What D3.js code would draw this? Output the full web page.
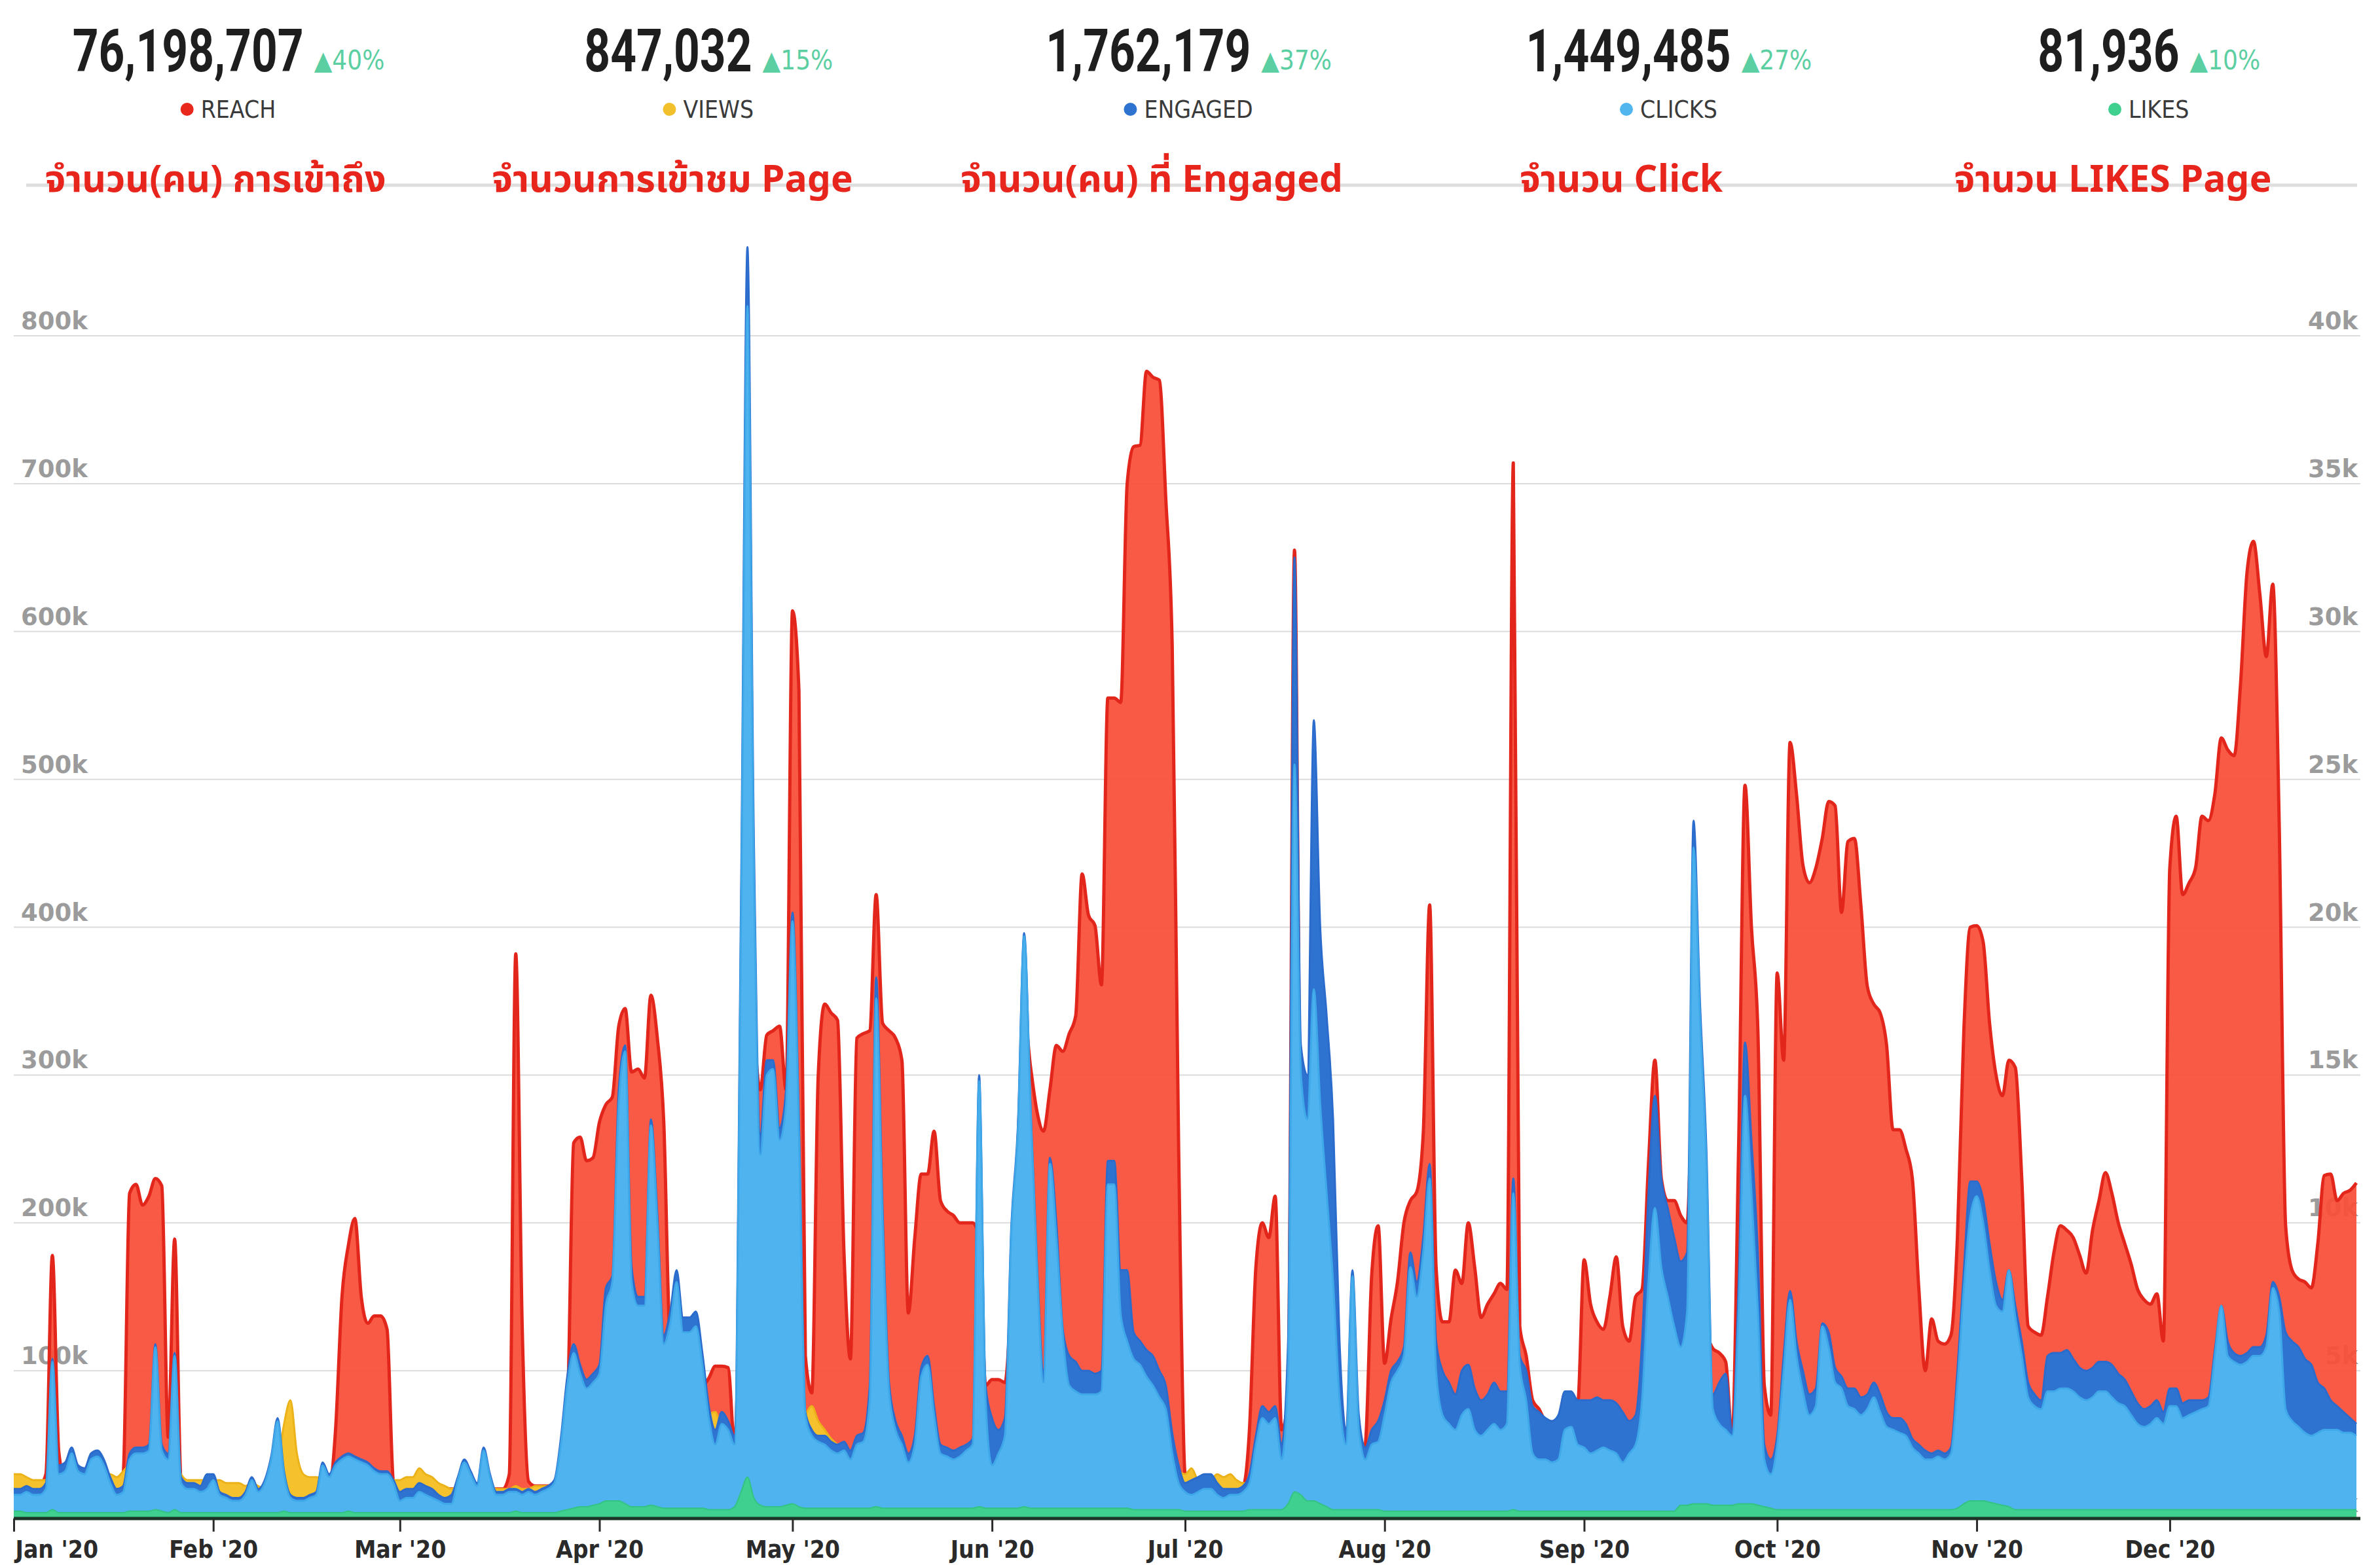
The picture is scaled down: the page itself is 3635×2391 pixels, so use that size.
<!DOCTYPE html>
<html>
<head>
<meta charset="utf-8">
<script src="https://cdn.jsdelivr.net/npm/d3@7/dist/d3.min.js"></script>
<style>
  html, body { margin: 0; padding: 0; background: #fff; }
  svg { display: block; }
  .num { font-family: "Roboto", "DejaVu Sans", sans-serif; font-weight: 700; fill: #1e1e1e; }
  .pct { font-family: "Liberation Sans Narrow", "DejaVu Sans Condensed", sans-serif; fill: #5ccfa2; }
  .lbl { font-family: "Liberation Sans Narrow", "DejaVu Sans Condensed", sans-serif; fill: #3a3a3a; }
  .note { font-family: "Noto Sans Thai", "Loma", "Garuda", "Noto Sans", "DejaVu Sans", sans-serif; font-weight: 700; fill: #e8251c; }
  .ylab { font-family: "DejaVu Sans", sans-serif; font-weight: 700; fill: #9b9b9b; }
  .xlab { font-family: "Liberation Sans Narrow", "DejaVu Sans Condensed", sans-serif; font-weight: 700; fill: #2a2a2a; }
</style>
</head>
<body>
<div id="chart"></div>
<script>
// header figures
const kpiNames = ['REACH', 'VIEWS', 'ENGAGED', 'CLICKS', 'LIKES'];
const kpiTotals = [76198707, 847032, 1762179, 1449485, 81936];
const kpiChanges = [40, 15, 37, 27, 10];
const kpiNotes = ['จำนวน(คน) การเข้าถึง', 'จำนวนการเข้าชม Page', 'จำนวน(คน) ที่ Engaged', 'จำนวน Click', 'จำนวน LIKES Page'];

// axis ticks (thousands)
const leftTicks = [0, 100, 200, 300, 400, 500, 600, 700, 800];
const rightTicks = [0, 5, 10, 15, 20, 25, 30, 35, 40];

// daily values, Jan 1 - Dec 30 2020, in thousands; reach on left axis, the rest on right axis
const reach = [
  20,20,22,20,22,30,178,45,25,22,22,20,22,20,20,20,22,30,220,226,212,218,230,225,55,189,25,20,20,20,20,
  20,20,20,20,20,20,20,20,20,20,20,20,20,20,20,20,20,20,20,60,150,185,203,150,132,137,137,128,25,
  20,20,20,20,20,20,20,20,20,20,20,20,20,20,20,20,20,30,382,130,25,22,22,22,25,40,70,254,258,242,244,
  268,280,285,333,345,302,304,298,354,325,268,120,110,100,100,110,90,95,103,103,102,50,200,400,330,290,327,330,333,290,
  614,560,110,85,300,348,342,337,180,108,325,328,330,422,335,330,325,310,139,190,233,233,262,215,208,205,200,200,200,190,90,
  94,94,92,150,250,340,305,275,262,290,320,316,328,340,436,408,401,361,555,555,552,700,725,726,776,772,770,690,590,250,
  30,22,22,22,22,22,22,22,22,22,60,170,200,190,218,60,80,655,250,240,400,300,250,200,90,50,120,40,50,165,198,
  105,135,160,200,215,221,260,415,170,133,133,168,159,200,170,136,145,152,159,155,714,130,110,80,74,65,60,62,85,85,78,
  175,145,133,128,150,177,130,120,150,155,240,310,230,215,215,205,200,300,140,125,115,112,106,55,250,496,400,330,90,70,
  369,310,525,490,442,430,440,460,485,482,410,458,460,415,360,348,342,320,263,263,250,230,156,100,135,120,118,124,190,330,400,
  401,390,335,300,286,310,305,230,130,126,124,150,180,198,195,190,178,166,195,215,234,220,200,186,172,155,148,145,152,120,
  440,475,422,430,440,475,472,490,528,520,516,565,640,661,625,583,632,470,198,168,162,160,156,186,232,233,215,220,222,227
];
const views = [
  1.5,1.5,1.4,1.3,1.3,1.3,2.0,1.3,1.4,1.4,1.4,1.4,1.3,1.3,1.4,1.5,1.4,1.6,1.8,1.8,1.8,1.8,2.0,1.8,1.8,2.0,1.5,1.3,1.3,1.3,1.3,
  1.3,1.3,1.2,1.2,1.2,1.1,1.2,1.1,1.0,1.0,1.8,3.2,4.0,2.2,1.5,1.4,1.4,1.3,1.0,1.2,1.4,1.5,1.5,1.5,1.5,1.4,1.4,1.4,1.3,
  1.3,1.4,1.4,1.7,1.5,1.4,1.2,1.1,1.0,1.1,1.2,1.1,1.1,1.2,1.1,1.0,1.0,1.0,1.1,1.0,1.0,1.1,1.1,1.1,1.2,1.5,2.0,2.2,2.2,2.2,2.2,
  2.2,2.4,2.5,2.6,2.6,2.5,2.5,2.5,2.5,2.5,2.5,2.5,2.5,2.5,2.5,2.5,2.6,3.5,3.6,3.0,2.8,2.4,3.0,3.5,3.0,3.0,3.0,3.0,3.0,3.0,
  3.0,3.0,3.5,3.8,3.3,3.0,2.7,2.5,2.3,2.2,2.4,2.4,2.5,2.6,2.6,2.5,2.4,2.3,1.9,2.2,2.4,2.4,2.4,2.2,2.2,2.1,2.1,2.2,2.2,2.5,2.8,
  1.8,2.0,2.2,2.8,2.9,2.8,2.7,2.8,2.9,2.8,2.8,2.7,2.8,2.8,2.7,2.8,2.8,2.9,2.8,2.8,2.7,2.8,2.8,2.7,2.8,2.8,2.7,2.8,2.0,1.6,
  1.5,1.7,1.3,1.2,1.3,1.5,1.4,1.5,1.3,1.2,1.2,2.0,2.5,2.5,2.5,2.0,2.5,3.0,3.0,3.0,3.0,3.0,3.0,3.0,2.8,2.5,2.5,2.0,2.0,2.0,2.0,
  2.0,2.0,2.2,2.3,2.5,2.5,2.5,2.5,2.5,2.4,2.3,2.3,2.3,2.3,2.3,2.3,2.3,2.3,2.3,2.3,2.5,2.5,2.3,2.0,1.8,1.8,1.8,1.8,2.0,2.0,2.0,
  2.0,2.0,2.0,2.0,2.0,2.0,1.9,1.9,2.0,2.5,3.0,3.0,3.0,3.0,3.0,3.0,3.0,3.5,3.5,3.0,2.5,2.5,2.5,2.3,2.5,3.0,3.0,3.0,2.0,1.8,
  2.0,2.5,2.8,2.8,2.8,2.8,2.8,2.8,2.8,2.8,2.8,2.8,2.8,2.8,2.8,2.8,2.8,2.6,2.5,2.5,2.5,2.2,2.0,1.9,1.9,1.9,1.9,2.0,2.5,3.0,3.0,
  3.2,3.2,3.1,3.0,3.0,3.0,3.0,2.9,2.9,2.9,2.9,3.0,3.0,3.0,3.0,3.0,3.0,3.0,3.0,3.0,3.0,3.0,2.9,2.9,2.9,2.9,2.9,2.9,2.9,2.9,
  2.9,2.9,2.9,2.9,2.9,2.9,2.9,3.0,3.0,3.0,3.0,3.0,3.0,3.0,3.0,3.0,3.0,3.0,2.9,2.8,2.7,2.6,2.6,2.6,2.6,2.6,2.6,2.6,2.6,2.6
];
const engaged = [
  1.0,1.0,1.1,1.0,1.0,1.2,5.4,1.8,1.9,2.4,1.8,1.7,2.2,2.3,2.0,1.4,1.0,1.1,2.2,2.4,2.4,2.5,5.9,2.5,2.2,5.6,1.4,1.2,1.2,1.1,1.5,
  1.5,0.9,0.8,0.7,0.7,0.9,1.4,1.0,1.3,2.1,3.4,1.6,0.8,0.7,0.7,0.8,0.9,1.9,1.5,1.9,2.1,2.2,2.1,2.0,1.9,1.7,1.6,1.6,1.3,
  0.9,1.0,1.0,1.2,1.1,1.0,0.8,0.7,0.8,1.4,2.0,1.6,1.2,2.4,1.5,0.9,0.9,1.0,1.0,0.9,1.0,0.9,1.0,1.1,1.3,2.7,4.8,5.9,5.2,4.7,4.9,
  5.2,7.8,8.2,14.5,16,8.5,7.5,7.5,13.5,10.3,6.2,7.0,8.4,6.8,6.8,7.0,5.6,3.8,3.0,3.6,3.3,2.8,21,43,23,13,15.5,15.5,13.2,14.5,
  20.5,13.5,3.6,3.0,2.8,2.8,2.6,2.5,2.6,2.3,2.8,2.9,4.5,18.3,10.5,4.6,3.3,2.8,2.2,2.8,5.1,5.5,3.8,2.5,2.4,2.3,2.4,2.5,2.7,15,4.5,
  3.4,3.0,3.4,9.9,13.2,19.8,13.9,8.6,5.0,12.2,10.0,6.4,5.5,5.3,5.0,5.0,4.9,5.0,12.1,12.1,8.4,8.4,6.3,6.0,5.7,5.5,5.0,4.5,2.9,1.8,
  1.2,1.3,1.4,1.5,1.5,1.2,1.0,1.0,1.0,1.1,1.5,2.8,3.8,3.6,3.8,2.5,6,32.5,16,15,27,20,17,13.5,6,3,8.4,3.5,2.4,3.0,3.3,
  4,5,5.3,5.8,9,8,9.5,12,6,5,4.6,4.2,5.0,5.2,4.4,4.0,4.2,4.6,4.3,4.3,11.5,5.5,5.0,3.8,3.6,3.4,3.3,3.5,4.3,4.3,4.0,
  4.0,4.0,4.1,4.0,4.0,3.9,3.6,3.3,3.5,6,11,14.3,11.5,10.5,9.5,8.7,9,23.6,17.5,12.5,4.2,4.6,4.9,3.0,8,16.1,12.8,9,2.5,2.0,
  2.8,5.5,7.7,6.0,5.0,4.2,4.4,6.6,6.3,5.1,4.8,4.4,4.4,4.1,4.2,4.6,4.2,3.6,3.4,3.4,3.2,2.7,2.5,2.3,2.2,2.3,2.2,2.4,5.0,8.4,11.4,
  11.4,10.8,9.3,8.0,7.4,8.4,7.2,6.0,4.6,4.2,4.0,5.5,5.6,5.6,5.7,5.4,5.1,5.0,5.1,5.3,5.3,5.2,4.9,4.7,4.3,3.9,3.7,3.8,4.0,3.6,
  4.4,4.4,3.9,4.0,4.0,4.0,4.1,5.7,7.2,6.0,5.6,5.5,5.6,5.8,5.8,6.2,8.0,7.5,6.3,6.0,5.8,5.4,5.2,4.6,4.4,4.0,3.8,3.6,3.4,3.2
];
const clicks = [
  0.8,0.8,0.9,0.8,0.8,1.0,5.3,1.5,1.6,2.2,1.6,1.5,2.0,2.1,1.8,1.2,0.8,0.9,2.0,2.2,2.2,2.3,5.8,2.3,2.0,5.5,1.2,1.0,1.0,0.9,1.0,
  1.3,0.8,0.7,0.6,0.6,0.8,1.3,0.9,1.2,2.0,3.3,1.5,0.7,0.6,0.6,0.7,0.8,1.8,1.4,1.8,2.0,2.1,2.0,1.9,1.8,1.6,1.5,1.5,1.2,
  0.6,0.7,0.7,0.9,0.8,0.7,0.6,0.5,0.5,1.3,1.9,1.5,1.1,2.3,1.4,0.8,0.8,0.9,0.9,0.8,0.9,0.8,0.9,1.0,1.2,2.5,4.5,5.6,4.9,4.4,4.6,
  4.9,7.2,8.0,14.0,15.8,8.0,7.2,7.2,13.3,10.0,5.9,6.6,8.0,6.3,6.3,6.5,5.2,3.4,2.5,3.2,3.0,2.5,20,41,22,12.3,15,15.2,12.8,14,
  20.2,13,3.5,2.8,2.6,2.5,2.3,2.2,2.3,2.0,2.5,2.6,4.0,17.6,10,4.3,3.0,2.5,1.9,2.5,4.8,5.2,3.5,2.2,2.1,2.0,2.1,2.3,2.5,14.8,4.0,
  1.8,2.2,2.8,9.7,13.0,19.7,13.8,8.4,4.6,12.0,9.5,6.2,4.5,4.3,4.2,4.2,4.2,4.3,11.3,11.3,6.9,6.0,5.4,5.2,4.8,4.5,4.1,3.7,2.2,1.2,
  0.9,0.8,0.9,1.0,1.0,0.8,0.7,0.8,0.8,0.9,1.2,2.5,3.4,3.2,3.4,2.0,5,25.5,15,13.5,17.9,14,11,8,4,2.5,8.2,3,2.0,2.5,2.6,
  3.5,4.6,5.0,5.5,8.5,7.5,9,11.5,5,3.5,3.2,3.0,3.5,3.7,3.0,2.8,3.0,3.2,3.0,3.2,11,5.2,4.0,2.2,2.0,2.0,1.9,2.0,3.0,3.1,2.5,
  2.4,2.2,2.3,2.4,2.3,2.2,1.9,2.2,2.5,4,8,10.5,8.5,7.5,6.5,5.8,7,22.7,17,12,3.7,3.2,3.0,2.8,7,14.3,11,7,2,1.5,
  2.5,5,7.4,5.5,4.3,3.5,3.8,6.5,5.8,4.6,4.4,3.8,3.7,3.5,3.7,4.1,3.6,3.1,3.0,2.9,2.8,2.4,2.2,2.0,2.0,2.1,2.0,2.2,4.5,7.8,10.2,
  10.9,10.0,8.4,7.2,7.0,8.4,6.8,5.5,4.1,3.8,3.7,4.3,4.3,4.4,4.4,4.3,4.1,4.0,4.1,4.3,4.3,4.1,3.9,3.8,3.5,3.2,3.1,3.2,3.4,3.2,
  3.8,3.8,3.4,3.5,3.6,3.7,3.8,5.5,7.2,5.5,5.3,5.2,5.3,5.5,5.5,5.8,7.8,7.0,3.7,3.3,3.1,2.9,2.8,2.9,3.0,3.0,3.0,2.9,2.9,2.8
];
const likes = [
  0.25,0.25,0.2,0.2,0.2,0.2,0.3,0.2,0.2,0.2,0.2,0.2,0.2,0.2,0.2,0.2,0.2,0.2,0.25,0.25,0.25,0.25,0.3,0.25,0.2,0.3,0.2,0.2,0.2,0.2,0.2,
  0.2,0.2,0.2,0.2,0.2,0.2,0.2,0.2,0.2,0.2,0.2,0.25,0.2,0.2,0.2,0.2,0.2,0.2,0.2,0.2,0.2,0.25,0.2,0.2,0.2,0.2,0.2,0.2,0.2,
  0.2,0.2,0.2,0.2,0.2,0.2,0.2,0.2,0.2,0.2,0.2,0.2,0.2,0.2,0.2,0.2,0.2,0.2,0.25,0.2,0.2,0.2,0.2,0.2,0.2,0.25,0.3,0.35,0.4,0.4,0.45,
  0.5,0.6,0.6,0.6,0.5,0.4,0.4,0.4,0.45,0.4,0.35,0.35,0.35,0.35,0.35,0.35,0.35,0.3,0.3,0.3,0.3,0.4,0.9,1.4,0.7,0.45,0.4,0.4,0.4,0.45,
  0.5,0.4,0.35,0.35,0.35,0.35,0.35,0.35,0.35,0.35,0.35,0.35,0.35,0.4,0.35,0.35,0.35,0.35,0.35,0.35,0.35,0.35,0.35,0.35,0.35,0.35,0.35,0.35,0.35,0.4,0.35,
  0.35,0.35,0.35,0.35,0.35,0.4,0.35,0.35,0.35,0.35,0.35,0.35,0.35,0.35,0.35,0.35,0.35,0.35,0.35,0.35,0.35,0.35,0.3,0.3,0.3,0.3,0.3,0.3,0.3,0.3,
  0.25,0.25,0.25,0.25,0.25,0.25,0.25,0.25,0.25,0.25,0.3,0.3,0.3,0.3,0.3,0.3,0.5,0.9,0.8,0.6,0.6,0.5,0.4,0.3,0.3,0.3,0.3,0.3,0.3,0.3,0.3,
  0.25,0.25,0.25,0.25,0.25,0.25,0.25,0.25,0.25,0.25,0.25,0.25,0.25,0.25,0.25,0.25,0.25,0.25,0.25,0.25,0.3,0.25,0.25,0.25,0.25,0.25,0.25,0.25,0.25,0.25,0.25,
  0.25,0.25,0.25,0.25,0.25,0.25,0.25,0.25,0.25,0.25,0.25,0.25,0.25,0.25,0.25,0.45,0.45,0.5,0.5,0.5,0.45,0.45,0.45,0.45,0.5,0.5,0.5,0.45,0.4,0.35,
  0.3,0.3,0.3,0.3,0.3,0.3,0.3,0.3,0.3,0.3,0.3,0.3,0.3,0.3,0.3,0.3,0.3,0.3,0.3,0.3,0.3,0.3,0.3,0.3,0.3,0.3,0.3,0.3,0.35,0.5,0.6,
  0.6,0.6,0.55,0.5,0.45,0.4,0.3,0.3,0.3,0.3,0.3,0.3,0.3,0.3,0.3,0.3,0.3,0.3,0.3,0.3,0.3,0.3,0.3,0.3,0.3,0.3,0.3,0.3,0.3,0.3,
  0.3,0.3,0.3,0.3,0.3,0.3,0.3,0.3,0.3,0.3,0.3,0.3,0.3,0.3,0.3,0.3,0.3,0.3,0.3,0.3,0.3,0.3,0.3,0.3,0.3,0.3,0.3,0.3,0.3,0.3
];

const W = 3635;
const H = 2391;
const plot = {left: 21, right: 3599, top: 513, bottom: 2320, gridEnd: 3605};

const colors = {
  reach: {fill: '#f8503a', line: '#e3261b'},
  views: {fill: '#f5c12c', line: '#ecb21a'},
  engaged: {fill: '#2f73d1', line: '#2b6bcc'},
  clicks: {fill: '#4fb3ef', line: '#3fa8e8'},
  likes: {fill: '#3fcf8e', line: '#33c384'}
};
const dotColors = ['#e8281c', '#f1c02b', '#2f73d1', '#52b6ee', '#3fcf8e'];

const days = d3.timeDay.range(new Date(2020, 0, 1), new Date(2020, 11, 31));
const rows = days.map((d, i)=> ({
  date: d, reach: reach[i], views: views[i], engaged: engaged[i], clicks: clicks[i], likes: likes[i]
}));

const x = d3.scaleTime()
  .domain([days[0], days[days.length - 1]])
  .range([plot.left, plot.right]);
const yLeft = d3.scaleLinear().domain([0, 800]).range([plot.bottom, plot.top]);
const yRight = d3.scaleLinear().domain([0, 40]).range([plot.bottom, plot.top]);

const svg = d3.select('#chart').append('svg')
  .attr('width', W)
  .attr('height', H)
  .style('background', '#fff');

// header
const kpiCenter = (i)=> 349 + i * 733.3;
const noteCenters = [329, 1027, 1759, 2476, 3227];
const firstNumberWidth = 353;

svg.append('line')
  .attr('x1', 40).attr('x2', 3600)
  .attr('y1', 283).attr('y2', 283)
  .attr('stroke', '#dedede')
  .attr('stroke-width', 5);

let squeeze = 1;
kpiNames.forEach((name, i)=> {
  const cx = kpiCenter(i);
  const g = svg.append('g');
  const numG = g.append('g');
  const num = numG.append('text').attr('class', 'num')
    .style('font-size', '90px')
    .text(d3.format(',')(kpiTotals[i]));
  if (i === 0) {
    squeeze = firstNumberWidth / num.node().getComputedTextLength();
  }
  const pct = g.append('text').attr('class', 'pct')
    .attr('y', 106)
    .style('font-size', '40px')
    .text(`▲${kpiChanges[i]}%`);
  const wn = num.node().getComputedTextLength() * squeeze;
  const wp = pct.node().getComputedTextLength();
  const start = cx - (wn + 16 + wp) / 2;
  numG.attr('transform', `translate(${start},109) scale(${squeeze},1)`);
  pct.attr('x', start + wn + 16);

  const lbl = g.append('text').attr('class', 'lbl')
    .attr('y', 180)
    .style('font-size', '37px')
    .text(name);
  const wl = lbl.node().getComputedTextLength();
  const ls = cx - (wl + 30) / 2;
  g.append('circle')
    .attr('cx', ls + 9).attr('cy', 167).attr('r', 10)
    .attr('fill', dotColors[i]);
  lbl.attr('x', ls + 30);

  svg.append('text').attr('class', 'note')
    .attr('x', noteCenters[i])
    .attr('y', 293)
    .attr('text-anchor', 'middle')
    .style('font-size', '57px')
    .text(kpiNotes[i]);
});

// grid
svg.append('g')
  .selectAll('line')
  .data(leftTicks.slice(1))
  .join('line')
  .attr('x1', plot.left).attr('x2', plot.gridEnd)
  .attr('y1', (d)=> yLeft(d)).attr('y2', (d)=> yLeft(d))
  .attr('stroke', '#dcdcdc')
  .attr('stroke-width', 2);

// axis labels sit beneath the areas
svg.append('g')
  .selectAll('text')
  .data(leftTicks)
  .join('text')
  .attr('class', 'ylab')
  .attr('x', 32)
  .attr('y', (d)=> yLeft(d) - 10)
  .style('font-size', '37px')
  .text((d)=> `${d}k`);

svg.append('g')
  .selectAll('text')
  .data(rightTicks)
  .join('text')
  .attr('class', 'ylab')
  .attr('x', 3601)
  .attr('y', (d)=> yRight(d) - 10)
  .attr('text-anchor', 'end')
  .style('font-size', '37px')
  .text((d)=> `${d}k`);

// series, back to front
const series = [
  {key: 'reach', y: yLeft, opacity: 0.94, width: 5},
  {key: 'views', y: yRight, opacity: 1, width: 3},
  {key: 'engaged', y: yRight, opacity: 1, width: 3},
  {key: 'clicks', y: yRight, opacity: 1, width: 3},
  {key: 'likes', y: yRight, opacity: 1, width: 2}
];

series.forEach((s)=> {
  const area = d3.area()
    .curve(d3.curveMonotoneX)
    .x((d)=> x(d.date))
    .y0(plot.bottom)
    .y1((d)=> s.y(d[s.key]));
  const line = d3.line()
    .curve(d3.curveMonotoneX)
    .x((d)=> x(d.date))
    .y((d)=> s.y(d[s.key]));
  svg.append('path')
    .datum(rows)
    .attr('d', area)
    .attr('fill', colors[s.key].fill)
    .attr('fill-opacity', s.opacity);
  svg.append('path')
    .datum(rows)
    .attr('d', line)
    .attr('fill', 'none')
    .attr('stroke', colors[s.key].line)
    .attr('stroke-width', s.width)
    .attr('stroke-linejoin', 'round');
});

// x axis
const xAxis = svg.append('g')
  .attr('transform', `translate(0,${plot.bottom})`)
  .call(d3.axisBottom(x)
    .ticks(d3.timeMonth.every(1))
    .tickFormat(d3.timeFormat("%b '%y"))
    .tickSize(20)
    .tickSizeOuter(0)
    .tickPadding(14));

xAxis.select('.domain')
  .attr('d', `M${plot.left},0H${plot.gridEnd}`)
  .attr('stroke', '#1c3527')
  .attr('stroke-width', 5);
xAxis.selectAll('.tick line')
  .attr('stroke', '#2b2b2b')
  .attr('stroke-width', 3);
xAxis.selectAll('.tick text')
  .attr('class', 'xlab')
  .style('font-size', '37px')
  .attr('fill', null);
xAxis.select('.tick text')
  .attr('text-anchor', 'start')
  .attr('x', 2);
</script>
</body>
</html>
